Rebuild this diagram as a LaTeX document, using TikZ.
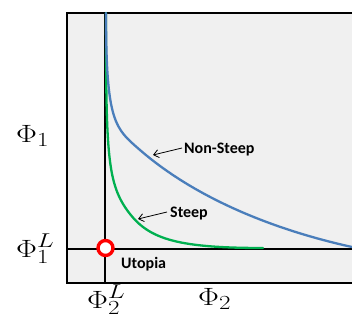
\documentclass[tikz,border=0pt]{standalone}
\usepackage{fix-cm}
\usepackage{graphicx}
\usepackage{fontspec}
\newfontfamily\labfont{Carlito}
\DeclareMathSizes{25}{25}{20}{15}
\usetikzlibrary{arrows.meta}
\definecolor{frame}{HTML}{F0F0F0}
\definecolor{nsblue}{HTML}{4A7EBB}
\definecolor{stgreen}{HTML}{00B050}
\tikzset{
  axisline/.style={line width=2.4pt, black},
  curve/.style={line width=2.3pt, line cap=round},
  lab/.style={font=\labfont\bfseries\fontsize{16}{18}\selectfont, inner sep=0pt, anchor=base west},
  mathlab/.style={font=\fontsize{25}{28}\selectfont, inner sep=0pt, anchor=base west},
  pointer/.style={line width=0.8pt, -{Straight Barb[length=5pt,width=8pt]}}
}
\begin{document}
\begin{tikzpicture}[x=1pt,y=-1pt]
\useasboundingbox (0,0) rectangle (352,323);
\clip (0,0) rectangle (352,323);
\fill[frame] (67,13) rectangle (370,283);
\draw[axisline] (67,13) rectangle (370,283);
\coordinate (vtop) at (105,13);
\coordinate (vbot) at (105,283);
\coordinate (hl) at (67,249);
\coordinate (hr) at (370,249);
\draw[axisline] (vtop) -- (vbot);
\draw[axisline] (hl) -- (hr);
% curves
\draw[curve, stgreen] (106,13) .. controls (106,150) and (107,182) .. (127,210)
  .. controls (147,238) and (173,248) .. (263,248);
\draw[curve, nsblue] (106,13) .. controls (106,123) and (115,128.25) .. (140,150)
  .. controls (200,202) and (282,231.6) .. (352,247);
% utopia point
\node[circle, draw=red, line width=3.4pt, fill=white, minimum size=15pt, inner sep=0pt] (utopia) at (105.5,248) {};
% labels
\node[lab] (ns) at (184,153) {Non-Steep};
\node[lab] (st) at (170,217) {Steep};
\node[lab] (ut) at (121,268) {Utopia};
\coordinate (nsstart) at (182,148);
\coordinate (ststart) at (167,212);
\coordinate (nstip) at (153,155);
\coordinate (sttip) at (138,219);
\draw[pointer] (nsstart) -- (nstip);
\draw[pointer] (ststart) -- (sttip);
% math labels
\node[mathlab] (p1) at (16,142) {\scalebox{1.25}[1]{$\Phi_1$}};
\node[mathlab] (p1l) at (16,257) {\scalebox{1.25}[1]{$\Phi_1^L$}};
\node[mathlab] (p2l) at (87,308) {\scalebox{1.25}[1]{$\Phi_2^L$}};
\node[mathlab] (p2) at (198,305) {\scalebox{1.25}[1]{$\Phi_2$}};
\end{tikzpicture}
\end{document}
